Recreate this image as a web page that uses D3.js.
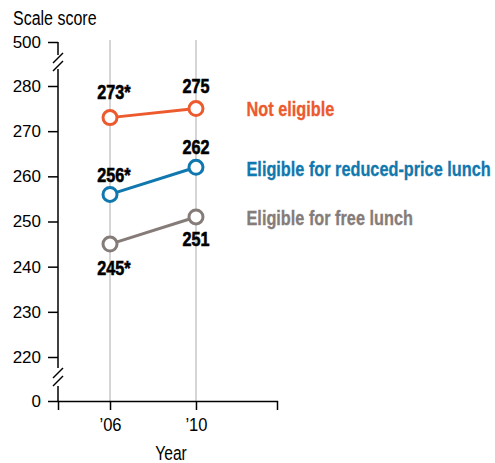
<!DOCTYPE html>
<html>
<head>
<meta charset="utf-8">
<script src="https://cdn.jsdelivr.net/npm/d3@7"></script>
<style>
  body { margin: 0; background: #fff; }
  svg text { font-family: "Liberation Sans", Arial, sans-serif; }
</style>
</head>
<body>
<svg id="chart"></svg>
<script>
// data
const years = [2006, 2010];
const yearLabels = ["\u201906", "\u201910"];
const seriesNames = ["Not eligible", "Eligible for reduced-price lunch", "Eligible for free lunch"];
const notEligible = [273, 275];
const reducedLunch = [256, 262];
const freeLunch = [245, 251];
const starred = [[true, false], [true, false], [true, false]];
const yTicks = [0, 220, 230, 240, 250, 260, 270, 280, 500];
const colors = ["#ec5a2e", "#1078ae", "#857c79"];
const labelOffsets = [[-19, -15.5], [-12.5, -13], [30.5, 29.5]];
const nameOffsets = [7.5, 9, 8.5];

const width = 495, height = 463;

// squeeze text horizontally (no condensed face installed)
function condense(sel, k) {
    sel.each(function () {
        const t = d3.select(this);
        const x = +t.attr("x") || 0, y = +t.attr("y") || 0;
        t.attr("x", 0).attr("y", 0)
            .attr("transform", `translate(${x},${y}) scale(${k},1)`);
    });
}

const svg = d3.select("#chart")
    .attr("width", width)
    .attr("height", height);

// broken y scale: 0 and 500 sit past the breaks
const yScale = d3.scaleLinear()
    .domain([0, 220, 280, 500])
    .range([401, 357, 86, 42]);

const xScale = d3.scaleLinear()
    .domain([2003.58, 2013.77])
    .range([58, 277]);

// vertical grid lines at the years
svg.selectAll(".grid")
    .data(years)
    .enter()
    .append("line")
    .attr("x1", d => xScale(d))
    .attr("x2", d => xScale(d))
    .attr("y1", yScale(500) - 2)
    .attr("y2", yScale(0))
    .attr("stroke", "#c8c8c8")
    .attr("stroke-width", 1.5);

// y axis (domain drawn by hand because of the breaks)
const yAxis = svg.append("g")
    .attr("transform", `translate(${xScale.range()[0]}, 0)`)
    .call(d3.axisLeft(yScale).tickValues(yTicks).tickSize(10).tickPadding(7).tickFormat(d3.format("d")));
yAxis.select(".domain").remove();
yAxis.selectAll(".tick line").attr("stroke", "#000").attr("stroke-width", 1.5);
yAxis.selectAll(".tick text").attr("font-size", 17).attr("fill", "#000")
    .attr("font-family", "Liberation Sans");

const ax = xScale.range()[0];
const segs = [[yScale(500), 55], [69, 368], [386, yScale(0)]];
svg.selectAll(".yseg")
    .data(segs)
    .enter()
    .append("line")
    .attr("x1", ax).attr("x2", ax)
    .attr("y1", d => d[0]).attr("y2", d => d[1])
    .attr("stroke", "#000").attr("stroke-width", 1.5);

// break marks
const breaks = [62, 377];
breaks.forEach(b => {
    [-4, 4].forEach(o => {
        svg.append("line")
            .attr("x1", ax - 5).attr("y1", b + o + 5)
            .attr("x2", ax + 5).attr("y2", b + o - 5)
            .attr("stroke", "#000").attr("stroke-width", 1.5);
    });
});

// x axis
const xAxis = svg.append("g")
    .attr("transform", `translate(0, ${yScale(0)})`)
    .call(d3.axisBottom(xScale).tickValues(years).tickSize(9).tickPadding(8)
        .tickFormat((d, i) => yearLabels[i]));
xAxis.select(".domain").attr("stroke", "#000").attr("stroke-width", 1.5);
xAxis.selectAll(".tick line").attr("stroke", "#000").attr("stroke-width", 1.5);
xAxis.selectAll(".tick text").attr("font-size", 18).attr("fill", "#000")
    .attr("font-family", "Liberation Sans");
condense(xAxis.selectAll(".tick text"), 0.92);

// axis titles
svg.append("text")
    .attr("x", 13).attr("y", 24.5)
    .attr("font-size", 19.5)
    .text("Scale score")
    .call(condense, 0.82);

svg.append("text")
    .attr("x", 171).attr("y", 460)
    .attr("text-anchor", "middle")
    .attr("font-size", 19.5)
    .text("Year")
    .call(condense, 0.8);

// series
const allSeries = [notEligible, reducedLunch, freeLunch];
const line = d3.line()
    .x((d, i) => xScale(years[i]))
    .y(d => yScale(d));

allSeries.forEach((vals, s) => {
    svg.append("path")
        .attr("d", line(vals))
        .attr("fill", "none")
        .attr("stroke", colors[s])
        .attr("stroke-width", 3);

    svg.selectAll(".pt" + s)
        .data(vals)
        .enter()
        .append("circle")
        .attr("cx", (d, i) => xScale(years[i]))
        .attr("cy", d => yScale(d))
        .attr("r", 7)
        .attr("fill", "#fff")
        .attr("stroke", colors[s])
        .attr("stroke-width", 3);

    // value labels, asterisk hangs off the right of a centred number
    svg.selectAll(".lbl" + s)
        .data(vals)
        .enter()
        .append("text")
        .attr("x", (d, i) => xScale(years[i]) + (starred[s][i] ? 4 : 0))
        .attr("y", (d, i) => yScale(d) + labelOffsets[s][i])
        .attr("text-anchor", "middle")
        .attr("font-size", 20)
        .attr("font-weight", "bold")
        .attr("fill", "#000")
        .attr("stroke", "#000")
        .attr("stroke-width", 0.6)
        .text((d, i) => d + (starred[s][i] ? "*" : ""))
        .call(condense, 0.81);

    // series name at the right
    svg.append("text")
        .attr("x", 246.5)
        .attr("y", yScale(vals[1]) + nameOffsets[s])
        .attr("font-size", 19.5)
        .attr("font-weight", "bold")
        .attr("fill", colors[s])
        .attr("stroke", colors[s])
        .attr("stroke-width", 0.3)
        .text(seriesNames[s])
        .call(condense, 0.835);
});
</script>
</body>
</html>
